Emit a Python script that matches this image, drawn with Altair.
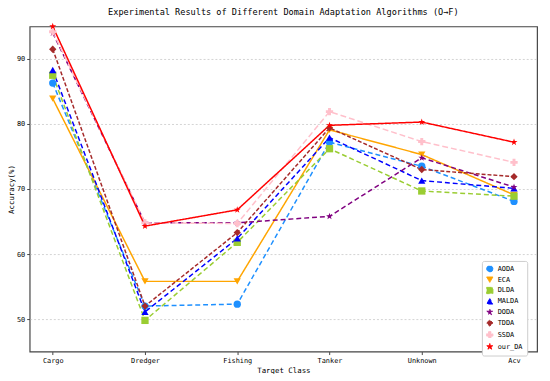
import altair as alt
import pandas as pd

categories = ["Cargo", "Dredger", "Fishing", "Tanker", "Unknown", "Acv"]
methods = ["AODA", "ECA", "DLDA", "MALDA", "DODA", "TDDA", "SSDA", "our_DA"]
values = {
    "AODA":   [86.3, 52.0, 52.3, 77.2, 73.5, 68.1],
    "ECA":    [83.9, 55.8, 55.8, 79.1, 75.3, 69.1],
    "DLDA":   [87.5, 49.8, 61.8, 76.2, 69.7, 68.9],
    "MALDA":  [88.3, 51.1, 62.4, 77.9, 71.3, 70.1],
    "DODA":   [94.0, 64.8, 64.8, 65.8, 74.8, 70.3],
    "TDDA":   [91.5, 52.0, 63.3, 79.4, 73.0, 71.9],
    "SSDA":   [94.2, 64.8, 64.7, 81.9, 77.3, 74.1],
    "our_DA": [95.0, 64.3, 66.8, 79.8, 80.3, 77.2],
}
colors = ["#1E90FF", "#FFA500", "#9ACD32", "#0000FF", "#800080", "#A52A2A", "#FFC0CB", "#FF0000"]
STAR = "M0,-1L0.2245,-0.309L0.951,-0.309L0.363,0.118L0.588,0.809L0,0.382L-0.588,0.809L-0.363,0.118L-0.951,-0.309L-0.2245,-0.309Z"
shapes = ["circle", "triangle-down", "square", "triangle-up", STAR, "diamond", "cross", STAR]
dashes = [[5, 3], [1, 0], [5, 3], [5, 3], [5, 3], [4, 2], [6, 3], [1, 0]]

rows = []
for oi, m in enumerate(methods):
    for c, v in zip(categories, values[m]):
        rows.append({"Method": m, "Target Class": c, "Accuracy": v, "order": oi})
df = pd.DataFrame(rows)

FONT = "DejaVu Sans Mono"

x = alt.X("Target Class:N", sort=categories,
          scale=alt.Scale(type="point", padding=0.25),
          axis=alt.Axis(title="Target Class", labelAngle=0))
y = alt.Y("Accuracy:Q", scale=alt.Scale(domain=[45, 95], nice=False, zero=False),
          axis=alt.Axis(title="Accuracy(%)", values=[50, 60, 70, 80, 90]))
color = alt.Color("Method:N", sort=methods, scale=alt.Scale(domain=methods, range=colors),
                  legend=alt.Legend(title=None, orient="none", legendX=459, legendY=238,
                                    labelFont=FONT, labelFontSize=7, symbolSize=40,
                                    rowPadding=0, padding=4, strokeColor="#cccccc",
                                    fillColor="white", cornerRadius=2, symbolStrokeWidth=1,
                                    labelLimit=60))
shape = alt.Shape("Method:N", sort=methods, scale=alt.Scale(domain=methods, range=shapes))
dash = alt.StrokeDash("Method:N", sort=methods, scale=alt.Scale(domain=methods, range=dashes), legend=None)

lines = alt.Chart(df).mark_line(strokeWidth=1.5).encode(
    x=x, y=y, color=color, strokeDash=dash, detail="Method:N",
    order=alt.Order("order:Q"))
points = alt.Chart(df).mark_point(filled=True, size=55, opacity=1).encode(
    x=x, y=y, color=color, shape=shape)

chart = alt.layer(lines, points).properties(
    width=515, height=330,
    title=alt.Title("Experimental Results of Different Domain Adaptation Algorithms (O→F)",
                    font=FONT, fontSize=8.7, fontWeight="normal", offset=6, color="#000"),
    autosize=alt.AutoSizeParams(type="none"),
    padding={"left": 22, "top": 16, "right": 5, "bottom": 20},
).configure_view(stroke="#444444", strokeWidth=1.2).configure_axis(
    labelFont=FONT, labelFontSize=7, titleFont=FONT, titleFontSize=7.5, titleFontWeight="normal",
    gridColor="#c8c8c8", gridDash=[2, 2], gridWidth=0.8, domain=False,
    tickColor="#444444", tickSize=3, labelColor="#000", titleColor="#000", labelPadding=2,
).configure_axisY(titlePadding=1).configure_axisX(titlePadding=3)

chart.save("out.html", embed_options={"renderer": "svg", "actions": False})
